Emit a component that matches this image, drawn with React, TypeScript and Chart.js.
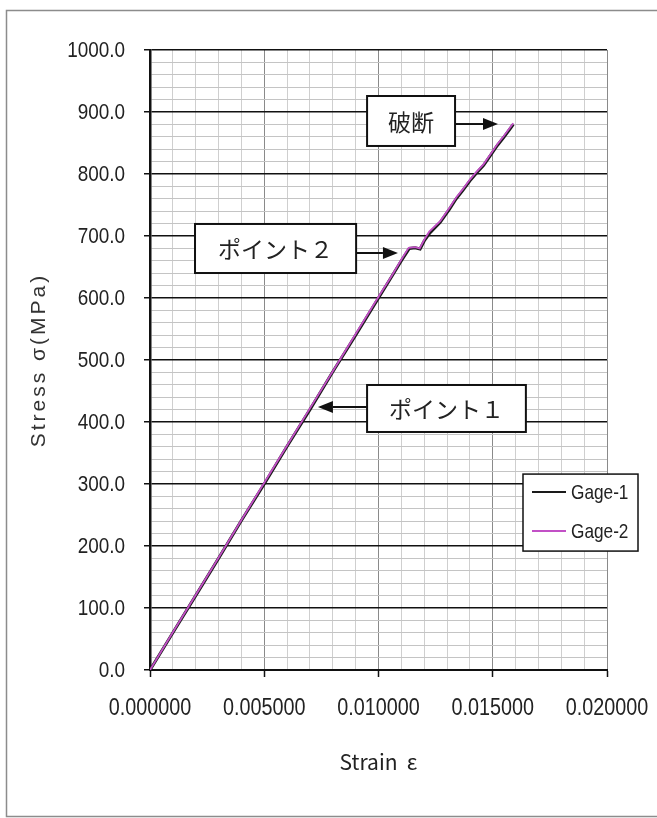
import React, { useEffect, useRef } from 'react';
import { Chart, registerables } from 'chart.js';

Chart.register(...registerables);

// ---- data ----
const strainGage1 = [0, 0.001, 0.002, 0.003, 0.004, 0.005, 0.006, 0.007, 0.008, 0.009, 0.010, 0.0106, 0.0110, 0.01135, 0.0116, 0.01182, 0.0120, 0.01225, 0.0127, 0.0131, 0.0134, 0.0137, 0.0140, 0.0143, 0.0146, 0.0149, 0.0152, 0.0155, 0.0158, 0.0159];
const stressGage1 = [0, 60, 120, 180, 241, 300, 361, 420, 481, 540, 600, 636, 660, 680, 681, 679, 692, 705, 722, 743, 760, 774, 789, 802, 814, 830, 846, 860, 875, 880];
const strainGage2 = [0, 0.001, 0.002, 0.003, 0.004, 0.005, 0.006, 0.007, 0.008, 0.009, 0.010, 0.0106, 0.0110, 0.01132, 0.0116, 0.01180, 0.0120, 0.01222, 0.0127, 0.0131, 0.0134, 0.0137, 0.0140, 0.0143, 0.0146, 0.0149, 0.0152, 0.0155, 0.0158, 0.0159];
const stressGage2 = [0, 61, 121, 181, 242, 302, 362, 422, 482, 542, 602, 637, 662, 681, 682, 680, 694, 707, 724, 745, 762, 776, 791, 804, 816, 832, 848, 862, 877, 882];
const seriesNames = ['Gage-1', 'Gage-2'];
const xAxisTitle = 'Strain  ε';
const yAxisTitle = 'Stress σ(MPa)';
const noteTexts = ['破断', 'ポイント２', 'ポイント１'];
// annotation boxes in data coordinates: [x1, x2, yTop, yBottom], arrow [yArrow, xTip]
const noteBoxes = [
  [0.0095, 0.01335, 925.8, 845.2],
  [0.00197, 0.00902, 719.4, 640.3],
  [0.0095, 0.01645, 459.7, 383.9],
];
const noteArrows = [
  [880.6, 0.01523],
  [672.6, 0.01085],
  [424.2, 0.00735],
];

const COLOR_G1 = '#1a1a1a';
const COLOR_G2 = '#c250c6';
const NARROW = 0.86;

function isMajorX(v: number) {
  return Math.round(v * 1000) % 5 === 0;
}
function isMajorY(v: number) {
  return Math.round(v) % 100 === 0;
}

function drawNarrow(ctx: CanvasRenderingContext2D, text: string, x: number, y: number, align: CanvasTextAlign, sx: number) {
  ctx.save();
  ctx.translate(x, y);
  ctx.scale(sx, 1);
  ctx.textAlign = align;
  ctx.textBaseline = 'middle';
  ctx.fillText(text, 0, 0);
  ctx.restore();
}

const decorPlugin = {
  id: 'decor',
  beforeDraw(chart: any) {
    const ctx = chart.ctx;
    ctx.save();
    ctx.fillStyle = '#ffffff';
    ctx.fillRect(0, 0, chart.width, chart.height);
    ctx.strokeStyle = '#8c8c8c';
    ctx.lineWidth = 1.5;
    ctx.beginPath();
    ctx.moveTo(chart.width, 10.5);
    ctx.lineTo(6.5, 10.5);
    ctx.lineTo(6.5, 816.5);
    ctx.lineTo(chart.width, 816.5);
    ctx.stroke();
    ctx.restore();
  },
  afterDraw(chart: any) {
    const ctx = chart.ctx;
    const xs = chart.scales.x;
    const ys = chart.scales.y;
    const area = chart.chartArea;
    ctx.save();

    // tick labels
    ctx.fillStyle = '#222';
    ctx.font = '23px "Liberation Sans", Arial, sans-serif';
    xs.ticks.forEach((t: any) => {
      if (!isMajorX(t.value)) return;
      drawNarrow(ctx, Number(t.value).toFixed(6), xs.getPixelForValue(t.value), area.bottom + 39, 'center', NARROW);
    });
    ctx.font = '22px "Liberation Sans", Arial, sans-serif';
    ys.ticks.forEach((t: any) => {
      if (!isMajorY(t.value)) return;
      drawNarrow(ctx, Number(t.value).toFixed(1), area.left - 25, ys.getPixelForValue(t.value) + 1, 'right', NARROW);
    });

    // annotations
    noteTexts.forEach((t, i) => {
      const [x1, x2, yt, yb] = noteBoxes[i];
      const px1 = xs.getPixelForValue(x1);
      const px2 = xs.getPixelForValue(x2);
      const py1 = ys.getPixelForValue(yt);
      const py2 = ys.getPixelForValue(yb);
      ctx.fillStyle = '#ffffff';
      ctx.fillRect(px1, py1, px2 - px1, py2 - py1);
      ctx.strokeStyle = '#111';
      ctx.lineWidth = 2;
      ctx.strokeRect(px1, py1, px2 - px1, py2 - py1);
      ctx.fillStyle = '#222';
      ctx.font = '23px "Noto Sans CJK JP"';
      ctx.textAlign = 'center';
      ctx.textBaseline = 'middle';
      ctx.fillText(t, (px1 + px2) / 2, (py1 + py2) / 2 + 1);
      // arrow
      const [ay, ax] = noteArrows[i];
      const pay = ys.getPixelForValue(ay);
      const pax = xs.getPixelForValue(ax);
      const startX = pax > px2 ? px2 : px1;
      const dir = pax > startX ? 1 : -1;
      const headLen = 15;
      ctx.strokeStyle = '#111';
      ctx.lineWidth = 2;
      ctx.beginPath();
      ctx.moveTo(startX, pay);
      ctx.lineTo(pax - dir * headLen, pay);
      ctx.stroke();
      ctx.fillStyle = '#111';
      ctx.beginPath();
      ctx.moveTo(pax, pay);
      ctx.lineTo(pax - dir * headLen, pay - 6);
      ctx.lineTo(pax - dir * headLen, pay + 6);
      ctx.closePath();
      ctx.fill();
    });

    // legend
    const lx = area.right - 84;
    const ly = ys.getPixelForValue(316);
    const lw = 115;
    const lh = 77;
    ctx.fillStyle = '#ffffff';
    ctx.fillRect(lx, ly, lw, lh);
    ctx.strokeStyle = '#111';
    ctx.lineWidth = 1.5;
    ctx.strokeRect(lx, ly, lw, lh);
    chart.data.datasets.forEach((ds: any, i: number) => {
      const yy = ly + 18 + i * 39;
      ctx.strokeStyle = ds.borderColor;
      ctx.lineWidth = 2;
      ctx.beginPath();
      ctx.moveTo(lx + 9, yy);
      ctx.lineTo(lx + 43, yy);
      ctx.stroke();
      ctx.fillStyle = '#222';
      ctx.font = '21px "Liberation Sans", Arial, sans-serif';
      drawNarrow(ctx, ds.label, lx + 48, yy + 1, 'left', 0.82);
    });

    // y axis title
    ctx.save();
    ctx.translate(39, (area.top + area.bottom) / 2);
    ctx.rotate(-Math.PI / 2);
    ctx.fillStyle = '#333';
    ctx.font = '21px "Liberation Sans", Arial, sans-serif';
    (ctx as any).letterSpacing = '3px';
    ctx.textAlign = 'center';
    ctx.textBaseline = 'middle';
    ctx.fillText(yAxisTitle, 0, 0);
    ctx.restore();

    // x axis title
    ctx.fillStyle = '#222';
    ctx.font = '21px "Noto Sans CJK JP", sans-serif';
    ctx.textAlign = 'center';
    ctx.textBaseline = 'middle';
    ctx.fillText(xAxisTitle, (area.left + area.right) / 2, 762);

    ctx.restore();
  },
};

export default function App() {
  const ref = useRef<HTMLCanvasElement | null>(null);

  useEffect(() => {
    if (!ref.current) return;
    const toPoints = (xs: number[], ys: number[]) => xs.map((x, i) => ({ x, y: ys[i] }));
    const chart = new Chart(ref.current, {
      type: 'scatter',
      data: {
        datasets: [
          {
            label: seriesNames[0],
            data: toPoints(strainGage1, stressGage1),
            borderColor: COLOR_G1,
            backgroundColor: COLOR_G1,
            showLine: true,
            borderWidth: 3,
            pointRadius: 0,
            order: 2,
          },
          {
            label: seriesNames[1],
            data: toPoints(strainGage2, stressGage2),
            borderColor: COLOR_G2,
            backgroundColor: COLOR_G2,
            showLine: true,
            borderWidth: 1.8,
            pointRadius: 0,
            order: 1,
          },
        ],
      },
      options: {
        animation: false,
        responsive: false,
        events: [],
        layout: { padding: { left: 0, top: 50, right: 50, bottom: 0 } },
        plugins: {
          legend: { display: false },
          tooltip: { enabled: false },
          title: { display: false },
        },
        scales: {
          x: {
            type: 'linear',
            min: 0,
            max: 0.02,
            afterFit(scale: any) {
              scale.height = 148;
            },
            border: { display: true, color: '#111', width: 2 },
            grid: {
              color: (c: any) => (c.tick && isMajorX(c.tick.value) ? '#8a8a8a' : '#cfcfcf'),
              lineWidth: 1,
              drawTicks: true,
              tickLength: 7,
              tickColor: (c: any) => (c.tick && isMajorX(c.tick.value) ? '#111' : 'rgba(0,0,0,0)'),
              tickWidth: 1.5,
            },
            ticks: {
              display: false,
              stepSize: 0.001,
              autoSkip: false,
              maxRotation: 0,
            },
          },
          y: {
            type: 'linear',
            min: 0,
            max: 1000,
            afterFit(scale: any) {
              scale.width = 150;
            },
            border: { display: true, color: '#111', width: 2.5 },
            grid: {
              color: (c: any) => (c.tick && isMajorY(c.tick.value) ? '#111' : '#c4c4c4'),
              lineWidth: (c: any) => (c.tick && isMajorY(c.tick.value) ? 1.5 : 1),
              drawTicks: true,
              tickLength: 6,
              tickColor: (c: any) => (c.tick && isMajorY(c.tick.value) ? '#111' : 'rgba(0,0,0,0)'),
              tickWidth: 1.5,
            },
            ticks: {
              display: false,
              stepSize: 20,
              autoSkip: false,
            },
          },
        },
      },
      plugins: [decorPlugin],
    } as any);
    return () => chart.destroy();
  }, []);

  return (
    <div style={{ position: 'fixed', left: 0, top: 0, width: 657, height: 818, background: '#fff' }}>
      <canvas ref={ref} width={657} height={818} style={{ display: 'block', width: 657, height: 818 }} />
    </div>
  );
}
